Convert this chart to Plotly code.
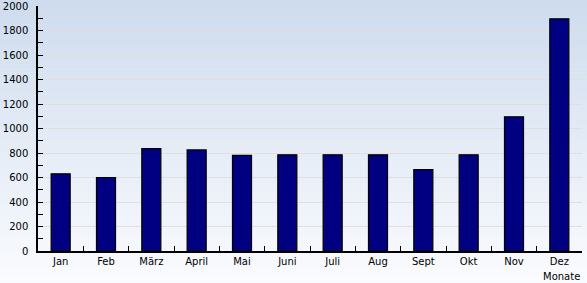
import plotly.graph_objects as go

months = ["Jan", "Feb", "März", "April", "Mai", "Juni", "Juli", "Aug", "Sept", "Okt", "Nov", "Dez"]
values = [630, 600, 835, 825, 780, 785, 785, 785, 665, 785, 1095, 1895]
y_ticks = list(range(0, 2001, 200))
x_title = "Monate"

W, H = 587, 283
ml, mr, mt, mb = 38, 5, 6, 32

fig = go.Figure()
fig.add_trace(go.Bar(
    x=months, y=values,
    marker=dict(color="#000080", line=dict(color="#000000", width=1.2)),
    width=0.42,
))

# vertical gradient background made of thin bands (paper coordinates)
ph = H - mt - mb
y0p = -mb / ph
y1p = (H - mb) / ph
n = 70
top = (206, 220, 238)
bot = (250, 251, 254)
shapes = []
for i in range(n):
    t = i / (n - 1)
    c = tuple(int(round(bot[k] + (top[k] - bot[k]) * t)) for k in range(3))
    ya = y0p + (y1p - y0p) * i / n
    yb = y0p + (y1p - y0p) * (i + 1) / n + 0.002
    shapes.append(dict(type="rect", xref="paper", yref="paper",
                       x0=-ml / (W - ml - mr) - 0.01, x1=1 + mr / (W - ml - mr) + 0.01,
                       y0=ya, y1=yb, fillcolor="rgb(%d,%d,%d)" % c,
                       line=dict(width=0), layer="below"))

fig.update_layout(
    width=W, height=H,
    margin=dict(l=ml, r=mr, t=mt, b=mb, autoexpand=False),
    paper_bgcolor="rgba(0,0,0,0)",
    plot_bgcolor="rgba(0,0,0,0)",
    shapes=shapes,
    showlegend=False,
    font=dict(family="DejaVu Sans, Verdana, sans-serif", size=10, color="#000000"),
    xaxis=dict(
        automargin=False,
        showline=True, linecolor="#000000", linewidth=1.5,
        ticks="inside", ticklen=5, tickcolor="#000000", tickwidth=1,
        tickson="boundaries", showgrid=False, zeroline=False,
        tickfont=dict(size=10),
    ),
    yaxis=dict(
        automargin=False,
        range=[0, 2000], tickvals=y_ticks,
        showline=True, linecolor="#000000", linewidth=1.5,
        ticks="inside", ticklen=5, tickcolor="#000000", tickwidth=1,
        showgrid=True, gridcolor="#e2dedc", gridwidth=1,
        zeroline=False, ticklabelstandoff=6,
        minor=dict(dtick=100, ticks="inside", ticklen=5, tickcolor="#000000", showgrid=False),
        tickfont=dict(size=10),
    ),
    annotations=[dict(text=x_title, xref="paper", yref="paper", x=1, y=0,
                      xanchor="right", yanchor="top", yshift=-18, showarrow=False,
                      font=dict(size=10))],
)

fig.write_html("out.html")
